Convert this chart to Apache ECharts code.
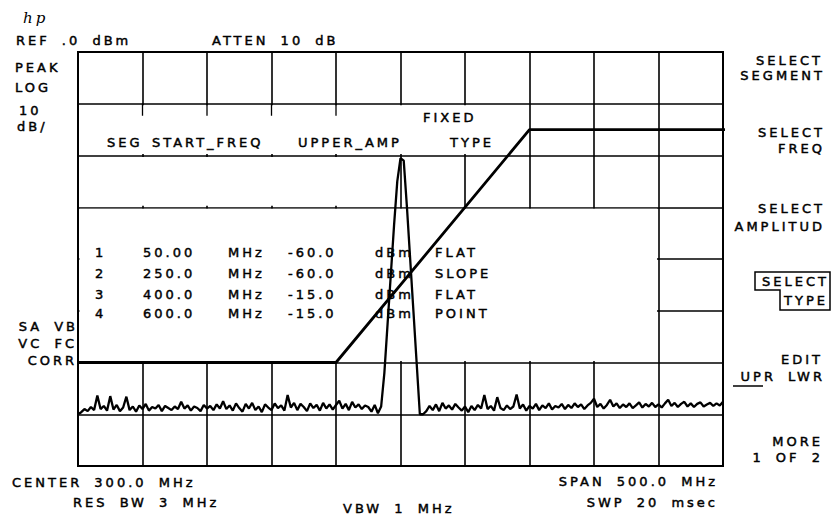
<!DOCTYPE html>
<html><head><meta charset="utf-8">
<script src="https://cdn.jsdelivr.net/npm/echarts@6/dist/echarts.min.js"></script>
<style>
html,body{margin:0;padding:0;background:#fff;}
#chart{width:835px;height:514px;}
#chart text{letter-spacing:3px;word-spacing:5px;white-space:pre;}
</style></head><body><div id="chart"></div>
<script>
// ---- data ----
const freqStartMHz = 50;
const freqStepMHz = 2.5;
const traceDbm = [
  -70.0,-69.6,-69.0,-69.4,-68.6,-69.2,-66.4,-69.0,-68.4,-69.3,   // 50 - 72.5
  -66.5,-69.1,-68.2,-69.4,-68.7,-66.6,-69.2,-68.5,-69.5,-68.3,   // 75 - 97.5
  -69.0,-68.0,-69.3,-68.6,-68.9,-68.2,-69.4,-68.4,-68.8,-69.2,   // 100 - 122.5
  -68.5,-69.0,-67.6,-68.9,-68.3,-69.3,-68.5,-68.8,-69.4,-68.2,   // 125 - 147.5
  -68.9,-68.4,-69.2,-68.1,-68.9,-67.5,-69.0,-68.3,-69.3,-67.9,   // 150 - 172.5
  -68.8,-69.5,-68.0,-68.9,-67.8,-69.2,-68.5,-69.6,-68.1,-68.7,   // 175 - 197.5
  -69.2,-67.9,-68.8,-68.3,-69.3,-66.3,-68.7,-67.8,-69.2,-68.0,   // 200 - 222.5
  -68.6,-69.4,-67.9,-68.8,-68.2,-69.3,-67.8,-68.9,-68.1,-69.1,   // 225 - 247.5
  -68.2,-67.4,-68.9,-68.0,-69.2,-67.6,-68.7,-68.1,-69.0,-68.3,   // 250 - 272.5
  -68.6,-69.5,-68.2,-69.8,-68.5,-62.0,-52.5,-43.0,-33.5,-25.0,   // 275 - 297.5
  -20.5,-21.0,-30.0,-40.0,-50.0,-60.0,-70.0,-70.0,-69.4,-68.4,   // 300 - 322.5
  -69.2,-68.1,-69.4,-67.8,-68.9,-68.3,-69.1,-68.0,-68.7,-69.3,   // 325 - 347.5
  -68.5,-69.6,-68.4,-69.2,-68.2,-68.9,-66.3,-69.0,-68.4,-69.3,   // 350 - 372.5
  -66.7,-68.8,-69.2,-68.3,-69.0,-68.5,-66.2,-68.9,-68.1,-69.3,   // 375 - 397.5
  -68.4,-68.9,-68.0,-69.2,-68.3,-68.8,-67.9,-69.1,-68.4,-68.7,   // 400 - 422.5
  -68.0,-69.0,-68.2,-68.8,-67.9,-68.6,-68.1,-69.0,-68.3,-67.8,   // 425 - 447.5
  -67.0,-68.6,-68.0,-68.9,-68.2,-67.2,-68.5,-67.9,-68.8,-68.1,   // 450 - 472.5
  -68.6,-67.9,-68.8,-68.3,-67.7,-68.7,-68.0,-68.5,-67.8,-68.6,   // 475 - 497.5
  -68.1,-68.7,-67.9,-67.2,-68.4,-67.8,-68.6,-68.0,-67.6,-68.5,   // 500 - 522.5
  -67.9,-68.6,-68.0,-67.7,-68.5,-68.1,-67.8,-68.4,-67.9,-68.3,   // 525 - 547.5
  -67.6                                                          // 550
];
const limitFreqMHz = [50, 250, 400, 600];
const limitDbm = [-60, -60, -15, -15];
const segNumbers = ['1', '2', '3', '4'];
const segStartFreq = ['50.00', '250.0', '400.0', '600.0'];
const segUpperAmp = ['-60.0', '-60.0', '-15.0', '-15.0'];
const segType = ['FLAT', 'SLOPE', 'FLAT', 'POINT'];
const tableTickFreqs = [100, 150, 200, 250];

// ---- chart ----
const chart = echarts.init(document.getElementById('chart'), null, {renderer: 'svg'});
const traceData = traceDbm.map((v, i) => [freqStartMHz + i * freqStepMHz, v]);
const limitData = limitFreqMHz.map((f, i) => [f, limitDbm[i]]);
const gridLine = {show: true, lineStyle: {color: '#000', width: 1.6}};
chart.setOption({
  animation: false,
  backgroundColor: '#fff',
  grid: {left: 78, right: 112, top: 52, bottom: 48, show: true, borderColor: '#000', borderWidth: 2, backgroundColor: 'transparent'},
  xAxis: {type: 'value', min: 50, max: 550, interval: 50, axisLabel: {show: false}, axisTick: {show: false}, axisLine: {show: false}, splitLine: gridLine},
  yAxis: {type: 'value', min: -80, max: 0, interval: 10, axisLabel: {show: false}, axisTick: {show: false}, axisLine: {show: false}, splitLine: gridLine},
  series: [
    {type: 'line', data: traceData, symbol: 'none', lineStyle: {color: '#000', width: 2.3}, z: 3},
    {type: 'line', data: limitData, symbol: 'none', lineStyle: {color: '#000', width: 2.8}, z: 4}
  ]
});

const P = (f, d) => chart.convertToPixel({gridIndex: 0}, [f, d]);
const FONT = '13px "DejaVu Sans"';
function txt(s, x, y, align) {
  return {type: 'text', x: x, y: y, z: 10, silent: true,
    style: {text: s, fill: '#000', stroke: '#000', lineWidth: 0.45, font: FONT, align: align || 'left', verticalAlign: 'middle'}};
}
const g = [];
// table overlay (blank regions)
[[50, 400, -10, -20], [50, 300, -20, -30], [50, 500, -30, -60]].forEach(r => {
  const a = P(r[0], r[2]), b = P(r[1], r[3]);
  g.push({type: 'rect', z: 1, silent: true,
    shape: {x: a[0] + 1.5, y: a[1] + 1.5, width: b[0] - a[0] - 3, height: b[1] - a[1] - 3},
    style: {fill: '#fff'}});
});
tableTickFreqs.forEach(f => {
  const a = P(f, -10);
  g.push({type: 'line', z: 1, silent: true, shape: {x1: a[0], y1: a[1], x2: a[0], y2: a[1] + 12}, style: {stroke: '#000', lineWidth: 1.3}});
});
// header / logo
g.push({type: 'text', x: 23, y: 18, z: 10, silent: true, style: {text: 'hp', fill: '#000', font: 'italic 15px "DejaVu Serif"', align: 'left', verticalAlign: 'middle'}});
g.push(txt('REF .0 dBm', 16, 40));
g.push(txt('ATTEN 10 dB', 212, 40));
// left labels
g.push(txt('PEAK', 15, 67));
g.push(txt('LOG', 15, 87));
g.push(txt('10', 19, 110));
g.push(txt('dB/', 17, 126));
g.push(txt('SA VB', 78, 326, 'right'));
g.push(txt('VC FC', 77, 343, 'right'));
g.push(txt('CORR', 77, 360, 'right'));
// table
g.push(txt('FIXED', 423, 117));
g.push(txt('SEG', 107, 142));
g.push(txt('START_FREQ', 152, 142));
g.push(txt('UPPER_AMP', 298, 142));
g.push(txt('TYPE', 450, 142));
const rowY = [252, 273, 294, 313];
segNumbers.forEach((n, i) => {
  g.push(txt(n, 95, rowY[i]));
  g.push(txt(segStartFreq[i], 143, rowY[i]));
  g.push(txt('MHz', 228, rowY[i]));
  g.push(txt(segUpperAmp[i], 288, rowY[i]));
  g.push(txt('dBm', 375, rowY[i]));
  g.push(txt(segType[i], 435, rowY[i]));
});
// bottom
g.push(txt('CENTER 300.0 MHz', 12, 482));
g.push(txt('RES BW 3 MHz', 73, 502));
g.push(txt('VBW 1 MHz', 343, 508));
g.push(txt('SPAN 500.0 MHz', 718, 481, 'right'));
g.push(txt('SWP 20 msec', 718, 502, 'right'));
// softkeys
const RX = 825;
g.push(txt('SELECT', RX - 2, 60, 'right'));
g.push(txt('SEGMENT', RX, 75, 'right'));
g.push(txt('SELECT', RX, 132, 'right'));
g.push(txt('FREQ', RX, 148, 'right'));
g.push(txt('SELECT', RX, 208, 'right'));
g.push(txt('AMPLITUD', RX, 226, 'right'));
g.push(txt('SELECT', RX + 4, 281, 'right'));
g.push(txt('TYPE', RX + 3, 300, 'right'));
g.push({type: 'polygon', z: 10, silent: true,
  shape: {points: [[755, 272], [830, 272], [830, 310], [780, 310], [780, 290], [755, 290]]},
  style: {fill: 'none', stroke: '#000', lineWidth: 1.5}});
g.push(txt('EDIT', RX - 2, 359, 'right'));
g.push(txt('UPR LWR', RX, 376, 'right'));
g.push({type: 'line', z: 10, silent: true, shape: {x1: 733, y1: 386, x2: 763, y2: 386}, style: {stroke: '#000', lineWidth: 1.5}});
g.push(txt('MORE', RX - 2, 441, 'right'));
g.push(txt('1 OF 2', RX - 2, 457, 'right'));

chart.setOption({graphic: g});
</script>
</body></html>
